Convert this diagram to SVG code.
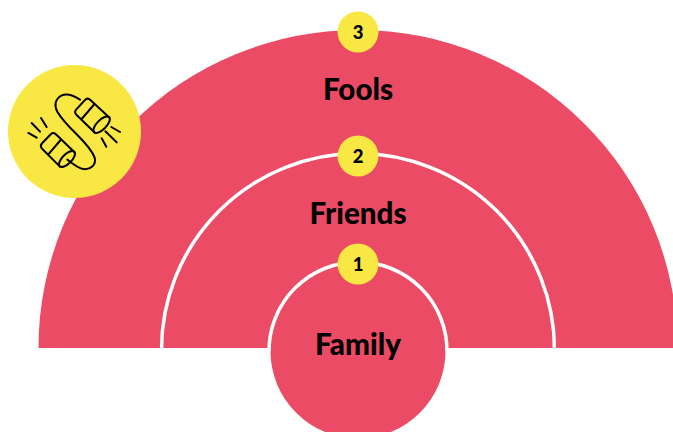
<svg xmlns="http://www.w3.org/2000/svg" width="673" height="432" viewBox="0 0 673 432">
<style>
.p{fill:#eb4b64}
.w{fill:none;stroke:#fff;stroke-width:3.500}
.y{fill:#f9e743}
.t{font-family:"Lato","Noto Sans",sans-serif;font-weight:900;font-size:29.600px;fill:#000;text-anchor:middle}
.n{font-family:"Lato","Noto Sans",sans-serif;font-weight:900;font-size:18.500px;fill:#000;text-anchor:middle}
.i{fill:none;stroke:#000;stroke-width:6;stroke-linecap:round;stroke-linejoin:round}
</style>
<rect width="673" height="432" fill="#fff"/>
<g id="fools">
<path class="p" d="M38.500 348A319.500 318 0 0 1 677.500 348Z"/>
<circle class="y" cx="358" cy="32" r="20.500"/>
<text class="n" x="358" y="38.500">3</text>
<text class="t" x="358" y="99.500">Fools</text>
</g>
<g id="friends">
<path class="w" d="M161.500 350A196.500 196.500 0 0 1 554.500 350"/>
<circle class="y" cx="358" cy="156" r="20.500"/>
<text class="n" x="358" y="162.500">2</text>
<text class="t" x="358" y="224">Friends</text>
</g>
<g id="family">
<rect x="266" y="348" width="184" height="3" fill="#fff"/>
<circle class="p" cx="358" cy="351" r="87.500"/>
<path class="w" d="M269 351A89 89 0 0 1 447 351"/>
<circle class="y" cx="358" cy="264" r="20.500"/>
<text class="n" x="358" y="270.500">1</text>
<text class="t" x="358" y="355">Family</text>
</g>
<g id="icon">
<circle class="y" cx="74.500" cy="131.500" r="66.500"/>
<g class="i" transform="translate(0 55) scale(.3333)">
<path d="M240 134C222 122 200 113 184 122C165 133 162 152 172 170C185 193 207 215 230 238C252 260 275 283 284 308C290 330 270 345 250 342C232 339 218 325 202 314"/>
<path d="M327 187L272 136Q264 127 256 134L229 163Q221 172 230 180L283 232"/>
<path d="M245 192L281 150"/>
<ellipse cx="305" cy="209" rx="32" ry="14" transform="rotate(-45 305 209)"/>
<path d="M222 290L170 240Q161 230 153 237L127 264Q118 273 127 282L180 335"/>
<path d="M145 298L182 255"/>
<ellipse cx="201" cy="312" rx="31" ry="14" transform="rotate(-45 201 312)"/>
<path d="M95 204L120 230M123 189L140 216M85 234L110 248M334 216L360 231M316 229L350 262M305 250L319 275"/>
</g>
</g>
</svg>
